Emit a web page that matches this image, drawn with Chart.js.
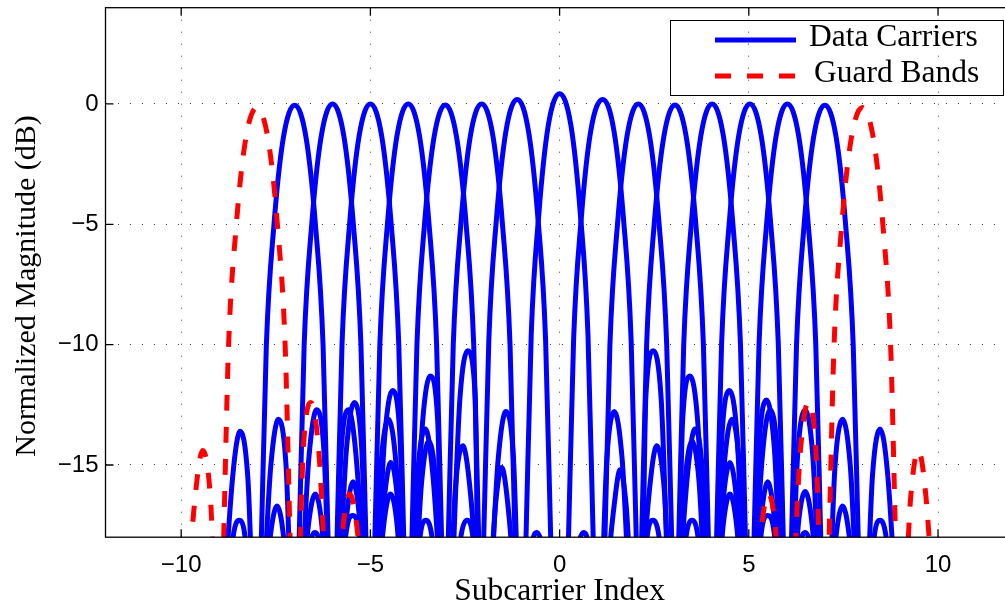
<!DOCTYPE html>
<html>
<head>
<meta charset="utf-8">
<script src="https://cdn.jsdelivr.net/npm/chart.js@4.4.1/dist/chart.umd.min.js"></script>
<style>
  html, body { margin: 0; padding: 0; background: #fff; overflow: hidden; }
  canvas { display: block; }
</style>
</head>
<body>
<canvas id="spectrum" width="1020" height="607"></canvas>
<script>
// --- data: [subcarrier index, dB] pairs, nulls dip below the axis ---
const xTickValues = [-10, -5, 0, 5, 10];
const yTickValues = [-15, -10, -5, 0];
const legendLabels = ['Data Carriers', 'Guard Bands'];
const yTitle = 'Normalized Magnitude (dB)';

const guardM8 = [[-10,-24],[-9.63,-16.3],[-9.43,-14.4],[-9.23,-16.3],[-9,-24],[-8.9,-19.35],[-8.75,-10.15],[-8.55,-5.15],[-8.3,-1.5],[-8,-0.15],[-7.7,-1.5],[-7.45,-5.15],[-7.25,-10.15],[-7.1,-19.35],[-7,-24],[-6.77,-14.3],[-6.57,-12.4],[-6.37,-14.3],[-6,-24],[-5.71,-17.4],[-5.54,-16.2],[-5.37,-17.4],[-5,-24]];
const guardP8 = [[5,-24],[5.35,-17.4],[5.52,-16.2],[5.69,-17.4],[6,-24],[6.37,-14.3],[6.57,-12.4],[6.77,-14.3],[7,-24],[7.1,-19.35],[7.25,-10.15],[7.45,-5.15],[7.7,-1.5],[8,-0.15],[8.3,-1.5],[8.55,-5.15],[8.75,-10.15],[8.9,-19.35],[9,-24],[9.28,-16.3],[9.48,-14.4],[9.68,-16.3],[10,-24]];

const carrierM7 = [[-9,-24],[-8.64,-15.5],[-8.44,-13.6],[-8.24,-15.5],[-8,-24],[-7.9,-19.2],[-7.75,-10.05],[-7.55,-5.05],[-7.3,-1.4],[-7,-0.05],[-6.7,-1.4],[-6.45,-5.05],[-6.25,-10.05],[-6.1,-19.2],[-6,-24],[-5.78,-14.6],[-5.58,-12.7],[-5.38,-14.6],[-5,-24]];
const carrierM6 = [[-9,-24],[-8.62,-17.9],[-8.47,-17.3],[-8.32,-17.9],[-8,-24],[-7.63,-15],[-7.43,-13.1],[-7.23,-15],[-7,-24],[-6.9,-19.2],[-6.75,-10],[-6.55,-5],[-6.3,-1.35],[-6,0],[-5.7,-1.35],[-5.45,-5],[-5.25,-10],[-5.1,-19.2],[-5,-24],[-4.72,-15],[-4.52,-13.1],[-4.32,-15],[-4,-24],[-3.68,-17.9],[-3.53,-17.3],[-3.38,-17.9],[-3,-24]];
const carrierM5 = [[-8,-24],[-7.64,-17.9],[-7.47,-16.7],[-7.3,-17.9],[-7,-24],[-6.62,-14.6],[-6.42,-12.7],[-6.22,-14.6],[-6,-24],[-5.9,-19.2],[-5.75,-10],[-5.55,-5],[-5.3,-1.35],[-5,0],[-4.7,-1.35],[-4.45,-5],[-4.25,-10],[-4.1,-19.2],[-4,-24],[-3.75,-15.4],[-3.55,-13.5],[-3.35,-15.4],[-3,-24]];
const carrierM4 = [[-7,-24],[-6.63,-17.4],[-6.46,-16.2],[-6.29,-17.4],[-6,-24],[-5.63,-14.3],[-5.43,-12.4],[-5.23,-14.3],[-5,-24],[-4.9,-19.2],[-4.75,-10],[-4.55,-5],[-4.3,-1.35],[-4,0],[-3.7,-1.35],[-3.45,-5],[-3.25,-10],[-3.1,-19.2],[-3,-24],[-2.76,-16.1],[-2.56,-14.2],[-2.36,-16.1],[-2,-24]];
const carrierM3 = [[-7,-24],[-6.6,-18.3],[-6.47,-17.8],[-6.34,-18.3],[-6,-24],[-5.62,-17],[-5.46,-15.7],[-5.3,-17],[-5,-24],[-4.62,-13.8],[-4.42,-11.9],[-4.22,-13.8],[-4,-24],[-3.92,-19.2],[-3.77,-10],[-3.57,-5],[-3.32,-1.4],[-3.02,-0.04],[-2.72,-1.4],[-2.47,-5],[-2.27,-10],[-2.12,-19.2],[-2.02,-24],[-1.69,-16.6],[-1.53,-15.1],[-1.37,-16.6],[-1,-24]];
const carrierM2 = [[-6,-24],[-5.63,-17.7],[-5.47,-17.1],[-5.31,-17.7],[-5,-24],[-4.64,-16.5],[-4.46,-14.9],[-4.28,-16.5],[-4,-24],[-3.62,-13.2],[-3.42,-11.3],[-3.22,-13.2],[-3.06,-24],[-2.96,-19.2],[-2.81,-10],[-2.61,-5],[-2.36,-1.35],[-2.06,0],[-1.76,-1.35],[-1.51,-5],[-1.31,-10],[-1.16,-19.2],[-1.06,-24],[-0.73,-18.3],[-0.6,-17.8],[-0.47,-18.3],[0,-24]];
const carrierM1 = [[-5,-24],[-4.64,-17.4],[-4.47,-16.2],[-4.3,-17.4],[-4,-24],[-3.64,-15.6],[-3.46,-14],[-3.28,-15.6],[-3,-24],[-2.63,-12.15],[-2.43,-10.25],[-2.23,-12.15],[-2.12,-24],[-2.02,-19],[-1.87,-9.8],[-1.67,-4.8],[-1.42,-1.15],[-1.12,0.19],[-0.82,-1.15],[-0.57,-4.8],[-0.37,-9.8],[-0.22,-19],[-0.12,-24]];
const carrier0 = [[-3,-24],[-2.6,-17.9],[-2.45,-17.3],[-2.3,-17.9],[-2,-24],[-1.62,-14.7],[-1.42,-12.78],[-1.22,-14.7],[-1,-24],[-0.9,-18.8],[-0.75,-9.6],[-0.55,-4.6],[-0.3,-0.9],[0,0.42],[0.3,-0.9],[0.55,-4.6],[0.75,-9.6],[0.9,-18.8],[1,-24],[1.25,-14.7],[1.45,-12.78],[1.65,-14.7],[2,-24],[2.32,-17.9],[2.47,-17.3],[2.62,-17.9],[3,-24]];
const carrierP1 = [[0.12,-24],[0.22,-19],[0.37,-9.8],[0.57,-4.8],[0.82,-1.15],[1.14,0.19],[1.44,-1.15],[1.69,-4.8],[1.89,-9.8],[2.04,-19],[2.14,-24],[2.28,-12.15],[2.48,-10.25],[2.68,-12.15],[3,-24],[3.32,-15.6],[3.5,-14],[3.68,-15.6],[4,-24],[4.33,-17.4],[4.5,-16.2],[4.67,-17.4],[5,-24]];
const carrierP2 = [[0,-24],[0.5,-18.3],[0.63,-17.8],[0.76,-18.3],[1.08,-24],[1.18,-19.2],[1.33,-10],[1.53,-5],[1.78,-1.35],[2.08,0],[2.38,-1.35],[2.63,-5],[2.83,-10],[2.98,-19.2],[3.08,-24],[3.25,-13.2],[3.45,-11.3],[3.65,-13.2],[4,-24],[4.32,-16.5],[4.5,-14.9],[4.68,-16.5],[5,-24],[5.34,-17.7],[5.5,-17.1],[5.66,-17.7],[6,-24]];
const carrierP3 = [[1,-24],[1.44,-16.7],[1.6,-15.2],[1.76,-16.7],[2.05,-24],[2.15,-19.2],[2.3,-10],[2.5,-5],[2.75,-1.4],[3.05,-0.04],[3.35,-1.4],[3.6,-5],[3.8,-10],[3.95,-19.2],[4.05,-24],[4.29,-13.8],[4.49,-11.9],[4.69,-13.8],[5,-24],[5.34,-17],[5.5,-15.7],[5.66,-17],[6,-24],[6.36,-18.3],[6.49,-17.8],[6.62,-18.3],[7,-24]];
const carrierP4 = [[2,-24],[2.37,-16.1],[2.57,-14.2],[2.77,-16.1],[3.03,-24],[3.13,-19.2],[3.28,-10],[3.48,-5],[3.73,-1.35],[4.03,0],[4.33,-1.35],[4.58,-5],[4.78,-10],[4.93,-19.2],[5.03,-24],[5.27,-14.2],[5.47,-12.3],[5.67,-14.2],[6,-24],[6.32,-17.3],[6.49,-16.1],[6.66,-17.3],[7,-24]];
const carrierP5 = [[3,-24],[3.38,-15.4],[3.58,-13.5],[3.78,-15.4],[4.03,-24],[4.13,-19.2],[4.28,-10],[4.48,-5],[4.73,-1.35],[5.03,0],[5.33,-1.35],[5.58,-5],[5.78,-10],[5.93,-19.2],[6.03,-24],[6.29,-14.6],[6.49,-12.7],[6.69,-14.6],[7,-24],[7.31,-17.9],[7.48,-16.7],[7.65,-17.9],[8,-24]];
const carrierP6 = [[3,-24],[3.35,-17.9],[3.5,-17.3],[3.65,-17.9],[4,-24],[4.35,-15],[4.55,-13.1],[4.75,-15],[5.02,-24],[5.12,-19.2],[5.27,-10],[5.47,-5],[5.72,-1.35],[6.02,0],[6.32,-1.35],[6.57,-5],[6.77,-10],[6.92,-19.2],[7.02,-24],[7.28,-15],[7.48,-13.1],[7.68,-15],[8,-24],[8.32,-17.9],[8.47,-17.3],[8.62,-17.9],[9,-24]];
const carrierP7 = [[5,-24],[5.36,-14.6],[5.56,-12.7],[5.76,-14.6],[6.01,-24],[6.11,-19.2],[6.26,-10.05],[6.46,-5.05],[6.71,-1.4],[7.01,-0.05],[7.31,-1.4],[7.56,-5.05],[7.76,-10.05],[7.91,-19.2],[8.01,-24],[8.27,-15.4],[8.47,-13.5],[8.67,-15.4],[9,-24]];

const dataCurves = [carrierM7, carrierM6, carrierM5, carrierM4, carrierM3, carrierM2, carrierM1, carrier0,
                    carrierP1, carrierP2, carrierP3, carrierP4, carrierP5, carrierP6, carrierP7];
const guardCurves = [guardM8, guardP8];

const BLUE = '#0000ff';
const RED = '#ff0000';
const DASH = [16, 16];
const SERIF = '"Liberation Serif", "Times New Roman", serif';
const SANS = '"Liberation Sans", Arial, sans-serif';

function toPoints(pairs) {
    return pairs.map(([x, y]) => ({ x, y }));
}

function curveDataset(pairs, label, color, dash, order) {
    return {
        label,
        data: toPoints(pairs),
        borderColor: color,
        borderWidth: 5,
        borderDash: dash,
        borderCapStyle: 'butt',
        cubicInterpolationMode: 'monotone',
        pointRadius: 0,
        fill: false,
        clip: 0,
        order
    };
}

function minusLabel(v) {
    return v < 0 ? '\u2212' + Math.abs(v) : String(v);
}

// MATLAB style box, inward ticks, y label and the legend
const axesDecor = {
    id: 'axesDecor',
    afterDraw(chart) {
        const { ctx, chartArea: a, scales: { x, y } } = chart;
        ctx.save();
        ctx.strokeStyle = '#000';
        ctx.lineWidth = 1.3;
        ctx.setLineDash([]);
        ctx.strokeRect(a.left, a.top, a.right - a.left, a.bottom - a.top);
        ctx.beginPath();
        xTickValues.forEach(v => {
            const px = x.getPixelForValue(v);
            ctx.moveTo(px, a.bottom); ctx.lineTo(px, a.bottom - 8);
            ctx.moveTo(px, a.top); ctx.lineTo(px, a.top + 8);
        });
        yTickValues.forEach(v => {
            const py = y.getPixelForValue(v);
            ctx.moveTo(a.left, py); ctx.lineTo(a.left + 8, py);
            ctx.moveTo(a.right, py); ctx.lineTo(a.right - 8, py);
        });
        ctx.stroke();

        // y label, sits a little below the axis centre in the original
        ctx.save();
        ctx.translate(27, 286);
        ctx.rotate(-Math.PI / 2);
        ctx.fillStyle = '#000';
        ctx.font = '30px ' + SERIF;
        ctx.textAlign = 'center';
        ctx.textBaseline = 'middle';
        ctx.fillText(yTitle, 0, 0);
        ctx.restore();

        // legend box
        ctx.lineWidth = 1;
        ctx.strokeRect(670.5, 20.5, 333, 75);
        const rows = [
            { text: legendLabels[0], color: BLUE, dash: [], y: 40, tx: 809 },
            { text: legendLabels[1], color: RED, dash: DASH, y: 76, tx: 814 }
        ];
        rows.forEach(r => {
            ctx.beginPath();
            ctx.strokeStyle = r.color;
            ctx.lineWidth = 5;
            ctx.lineCap = 'butt';
            ctx.setLineDash(r.dash);
            ctx.moveTo(715, r.y);
            ctx.lineTo(796, r.y);
            ctx.stroke();
            ctx.setLineDash([]);
            ctx.fillStyle = '#000';
            ctx.font = '31.5px ' + SERIF;
            ctx.textBaseline = 'middle';
            ctx.textAlign = 'left';
            ctx.fillText(r.text, r.tx, r.y - 2);
        });
        ctx.restore();
    }
};

const datasets = [
    ...guardCurves.map(c => curveDataset(c, legendLabels[1], RED, DASH, 0)),
    ...dataCurves.map(c => curveDataset(c, legendLabels[0], BLUE, [], 1))
];

new Chart(document.getElementById('spectrum'), {
    type: 'line',
    data: { datasets },
    options: {
        responsive: false,
        animation: false,
        layout: { padding: { left: 0, right: 6.3, top: 7.7, bottom: 0 } },
        plugins: { legend: { display: false }, tooltip: { enabled: false } },
        scales: {
            x: {
                type: 'linear',
                min: -12,
                max: 12,
                afterBuildTicks: s => { s.ticks = xTickValues.map(v => ({ value: v })); },
                afterFit: s => { s.height = 69.8; s.paddingLeft = 0; s.paddingRight = 0; },
                ticks: {
                    callback: minusLabel,
                    color: '#000',
                    font: { family: SANS, size: 24 },
                    padding: 14,
                    maxRotation: 0,
                    autoSkip: false
                },
                grid: { color: '#444', lineWidth: 1, drawTicks: false },
                border: { display: false, dash: [1, 11] },
                title: {
                    display: true,
                    text: 'Subcarrier Index',
                    color: '#000',
                    font: { family: SERIF, size: 31.5, lineHeight: 1 },
                    padding: { top: 0, bottom: 0 }
                }
            },
            y: {
                type: 'linear',
                min: -18,
                max: 4,
                afterBuildTicks: s => { s.ticks = yTickValues.map(v => ({ value: v })); },
                afterFit: s => { s.width = 105.5; s.paddingTop = 0; s.paddingBottom = 0; },
                ticks: {
                    callback: minusLabel,
                    color: '#000',
                    font: { family: SANS, size: 24 },
                    padding: 7
                },
                grid: { color: '#444', lineWidth: 1, drawTicks: false },
                border: { display: false, dash: [1, 11] }
            }
        }
    },
    plugins: [axesDecor]
});
</script>
</body>
</html>
